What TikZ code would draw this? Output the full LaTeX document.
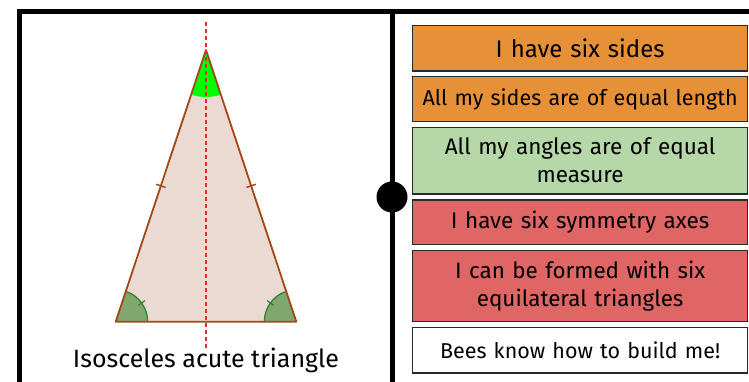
\documentclass[tikz,border=0pt]{standalone}
\usepackage{fontspec}
\setmainfont{Fira Sans}
\usetikzlibrary{calc}
\definecolor{orangebox}{RGB}{230,145,56}
\definecolor{greenbox}{RGB}{182,215,168}
\definecolor{redbox}{RGB}{224,102,102}
\definecolor{boxborder}{RGB}{40,40,40}
\definecolor{triedge}{RGB}{160,72,25}
\definecolor{trifill}{RGB}{235,218,210}
\definecolor{axisred}{RGB}{225,45,45}
\definecolor{anglefill}{RGB}{128,168,110}
\definecolor{angleedge}{RGB}{45,125,45}
\definecolor{apexgreen}{RGB}{0,255,0}
\begin{document}
\begin{tikzpicture}[x=1pt,y=1pt,
  card/.style={draw=boxborder, line width=1.3pt, minimum width=335pt, text width=325pt,
    align=center, inner sep=0pt, anchor=north west},
  framebar/.style={line width=5pt, black},
  triside/.style={draw=triedge, line width=1.8pt, line join=round},
  anglearc/.style={draw=angleedge, line width=1.2pt},
  tick/.style={line width=1.4pt}]
\useasboundingbox (0,0) rectangle (749,382);
\clip (0,0) rectangle (749,382);
% frame
\draw[framebar] (19.5,-10) -- (19.5,370) -- (760,370);
\draw[framebar] (392,-10) -- (392,370);
\node[circle, fill=black, minimum size=31pt, inner sep=0pt] (hinge) at (392,185) {};
% triangle
\coordinate (A) at (206,332);
\coordinate (B) at (115.7,60.3);
\coordinate (C) at (296.3,60.3);
\fill[trifill] (A) -- (B) -- (C) -- cycle;
\fill[apexgreen] (A) -- ++(251.62:47) arc[start angle=251.62, end angle=288.38, radius=47] -- cycle;
\fill[anglefill] (B) -- ++(0:32) arc[start angle=0, end angle=71.62, radius=32] -- cycle;
\fill[anglefill] (C) -- ++(180:32) arc[start angle=180, end angle=108.38, radius=32] -- cycle;
\draw[anglearc] (B) ++(0:32) arc[start angle=0, end angle=71.62, radius=32];
\draw[anglearc] (C) ++(180:32) arc[start angle=180, end angle=108.38, radius=32];
\draw[anglearc] (B) ++(35.8:28) -- ++(35.8:8);
\draw[anglearc] (C) ++(144.2:28) -- ++(144.2:8);
\draw[triside] (A) -- (B) -- (C) -- cycle;
\draw[tick, triedge] ($(A)!0.5!(B)$) ++(161.62:5) -- ++(-18.38:10);
\draw[tick, triedge] ($(A)!0.5!(C)$) ++(18.38:5) -- ++(198.38:10);
\draw[axisred, line width=1.2pt, dash pattern=on 4pt off 3pt] (206,360) -- (206,32);
\node[anchor=base, font=\fontsize{25}{30}\selectfont] (lbl) at (206,14) {Isosceles acute triangle};
% cards
\node[card, fill=orangebox, minimum height=45.5pt, font=\fontsize{24}{28}\selectfont] (b1) at (412,357) {I have six sides};
\node[card, fill=orangebox, minimum height=44.7pt, font=\fontsize{21.5}{28}\selectfont] (b2) at (412,306) {All my sides are of equal length};
\node[card, fill=greenbox, minimum height=66.6pt, font=\fontsize{22.5}{28}\selectfont] (b3) at (412,255.3) {All my angles are of equal\\measure};
\node[card, fill=redbox, minimum height=44.7pt, font=\fontsize{22.5}{28}\selectfont] (b4) at (412,182.7) {I have six symmetry axes};
\node[card, fill=redbox, minimum height=70.7pt, font=\fontsize{22.4}{28}\selectfont] (b5) at (412,132) {I can be formed with six\\equilateral triangles};
\node[card, fill=white, minimum height=45.6pt, font=\fontsize{21.5}{28}\selectfont] (b6) at (412,55.3) {Bees know how to build me!};
\end{tikzpicture}
\end{document}
